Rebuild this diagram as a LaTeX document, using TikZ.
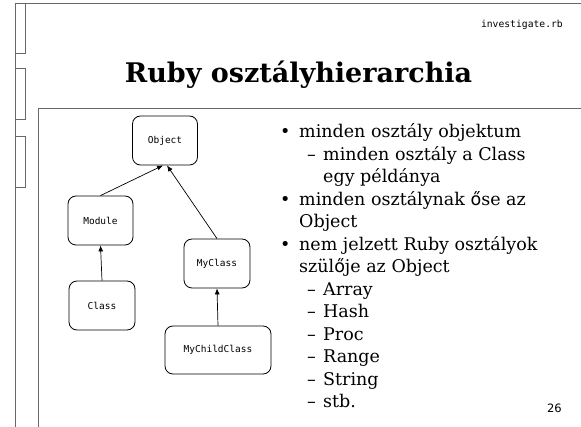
\documentclass[tikz,border=0pt]{standalone}
\usepackage{fontspec}
\setmainfont{DejaVu Serif}
\newfontfamily\slidemono{DejaVu Sans Mono}
\newfontfamily\slidesans{DejaVu Sans}
\usepackage{xcolor}
\usetikzlibrary{arrows.meta}
\definecolor{framegray}{RGB}{105,105,105}

\begin{document}
\begin{tikzpicture}[x=1pt, y=-1pt,
    frameline/.style = {draw=framegray, line width=1pt},
    classbox/.style = {draw, rounded corners=8pt, line width=0.8pt, minimum height=49pt,
                       minimum width=66pt, font=\slidemono\fontsize{9.5}{11}\selectfont},
    inherit/.style = {-{Latex[length=6pt, width=5pt]}, line width=0.7pt},
    bodytext/.style = {anchor=base west, inner sep=0pt, font=\fontsize{17.5}{21}\selectfont}]
  \useasboundingbox (0,0) rectangle (581,427);

  % slide frame
  \draw[frameline] (15,3.5) -- (581,3.5);
  \draw[frameline] (15,3.5) -- (15,427);
  \draw[frameline] (15,4) rectangle (25,54);
  \draw[frameline] (15,69) rectangle (25,120);
  \draw[frameline] (15,137) rectangle (25,188);
  \draw[frameline] (38,109) -- (581,109);
  \draw[frameline] (38,109) -- (38,427);

  % header
  \node[anchor=base east, inner sep=0pt, font=\slidemono\fontsize{9.7}{11}\selectfont]
    (file) at (563,28) {investigate.rb};
  \node[anchor=base, inner sep=0pt, font=\bfseries\fontsize{27}{32}\selectfont]
    (title) at (298.5,83) {Ruby osztályhierarchia};

  % class hierarchy
  \node[classbox, minimum width=65pt] (obj) at (165,140.5) {Object};
  \node[classbox, minimum width=65pt] (mod) at (100.5,220.5) {Module};
  \node[classbox] (cls) at (102,305.5) {Class};
  \node[classbox] (mycls) at (217,263.5) {MyClass};
  \node[classbox, minimum width=106pt, minimum height=48pt] (child) at (218,350) {MyChildClass};

  \draw[inherit] (mod.north) -- ([xshift=-2pt]obj.south);
  \draw[inherit] (mycls.north) -- ([xshift=2pt]obj.south);
  \draw[inherit] (cls.north) -- (mod.south);
  \draw[inherit] (child.north) -- (mycls.south);

  % bullet list
  \node[bodytext] (d1) at (280,138) {•};
  \node[bodytext] (t1) at (299,138) {minden osztály objektum};
  \node[bodytext] (s1) at (307,160.5) {–};
  \node[bodytext] (t2) at (323,160.5) {minden osztály a Class};
  \node[bodytext] (t3) at (323,183) {egy példánya};
  \node[bodytext] (d2) at (280,205.5) {•};
  \node[bodytext] (t4) at (299,205.5) {minden osztálynak {\slidesans ő}se az};
  \node[bodytext] (t5) at (299,228) {Object};
  \node[bodytext] (d3) at (280,250.5) {•};
  \node[bodytext] (t6) at (299,250.5) {nem jelzett Ruby osztályok};
  \node[bodytext] (t7) at (299,273) {szül{\slidesans ő}je az Object};
  \foreach \cname [count=\i] in {Array, Hash, Proc, Range, String, stb.} {
    \node[bodytext] (s\i) at (307,273+22.5*\i) {–};
    \node[bodytext] (c\i) at (323,273+22.5*\i) {\cname};
  }

  % page number
  \node[anchor=base east, inner sep=0pt, font=\slidesans\fontsize{11.5}{13}\selectfont]
    (page) at (562,412.5) {26};
\end{tikzpicture}
\end{document}
